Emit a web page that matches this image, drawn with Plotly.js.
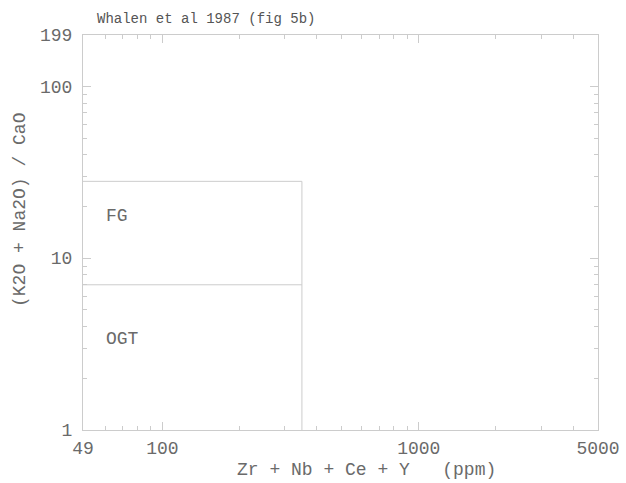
<!DOCTYPE html>
<html><head><meta charset="utf-8">
<script src="https://cdn.plot.ly/plotly-3.0.1.min.js"></script>
<style>body{margin:0;background:#fff}#c{width:626px;height:483px}</style>
</head><body><div id="c"></div>
<script>
// Field boundaries (x: Zr+Nb+Ce+Y ppm, y: (K2O+Na2O)/CaO)
const boundaryOuterX = [49, 350, 350];
const boundaryOuterY = [28, 28, 1];
const boundaryInnerX = [49, 350];
const boundaryInnerY = [7, 7];
const fieldLabels = ['FG', 'OGT'];
const fieldLabelX = [59, 59];
const fieldLabelY = [17.5, 3.4];
const xTickVals = [49, 100, 1000, 5000];
const xTickText = ['49', '100', '1000', '5000'];
const yTickVals = [1, 10, 100, 199];
const yTickText = ['1', '10', '100', '199'];
const xMinor = [60,70,80,90,200,300,400,500,600,700,800,900,2000,3000,4000];
const yMinor = [2,3,4,5,6,7,8,9,20,30,40,50,60,70,80,90];

const lineStyle = {color:'#cccccc', width:1};
const fam = 'Liberation Mono, DejaVu Sans Mono, monospace';
const font = {family:fam, size:18, color:'#6a6a6a'};
const titleFont = {family:fam, size:14, color:'#555'};
const traces = [
  {x:boundaryOuterX, y:boundaryOuterY, mode:'lines', line:lineStyle, hoverinfo:'skip'},
  {x:boundaryInnerX, y:boundaryInnerY, mode:'lines', line:lineStyle, hoverinfo:'skip'}
];
const axisCommon = {
  type:'log', showgrid:false, zeroline:false, showline:true, linecolor:'#cccccc', linewidth:1,
  mirror:'ticks', ticks:'inside', ticklen:8, tickcolor:'#cccccc', tickwidth:1,
  tickmode:'array', tickfont:font
};
const layout = {
  width:626, height:483, showlegend:false,
  paper_bgcolor:'#fff', plot_bgcolor:'#fff',
  margin:{l:83, r:28, t:35, b:53},
  font:font,
  title:{text:'Whalen et al 1987 (fig 5b)', x:97/626, xanchor:'left', y:1-18/483, yanchor:'middle', font:titleFont},
  xaxis:Object.assign({}, axisCommon, {
    range:[Math.log10(49), Math.log10(5000)], tickvals:xTickVals, ticktext:xTickText,
    ticklabelstandoff:1,
    minor:{tickmode:'array', tickvals:xMinor, ticks:'inside', ticklen:4, tickcolor:'#cccccc', showgrid:false}
  }),
  yaxis:Object.assign({}, axisCommon, {
    range:[0, Math.log10(199)], tickvals:yTickVals, ticktext:yTickText,
    ticklabelstandoff:6,
    minor:{tickmode:'array', tickvals:yMinor, ticks:'inside', ticklen:4, tickcolor:'#cccccc', showgrid:false}
  }),
  annotations: fieldLabels.map((t,i)=>({x:Math.log10(fieldLabelX[i]), y:Math.log10(fieldLabelY[i]), xref:'x', yref:'y', text:t, showarrow:false, xanchor:'left', font:font}))
    .concat([
      {xref:'paper', yref:'paper', x:(366-83)/515, y:-(470-430)/395, text:'Zr + Nb + Ce + Y   (ppm)', showarrow:false, xanchor:'center', yanchor:'middle', font:font},
      {xref:'paper', yref:'paper', x:(20-83)/515, y:(430-210)/395, text:'(K2O + Na2O) / CaO', textangle:-90, showarrow:false, xanchor:'center', yanchor:'middle', font:font}
    ])
};
Plotly.newPlot('c', traces, layout, {staticPlot:true});
</script></body></html>
